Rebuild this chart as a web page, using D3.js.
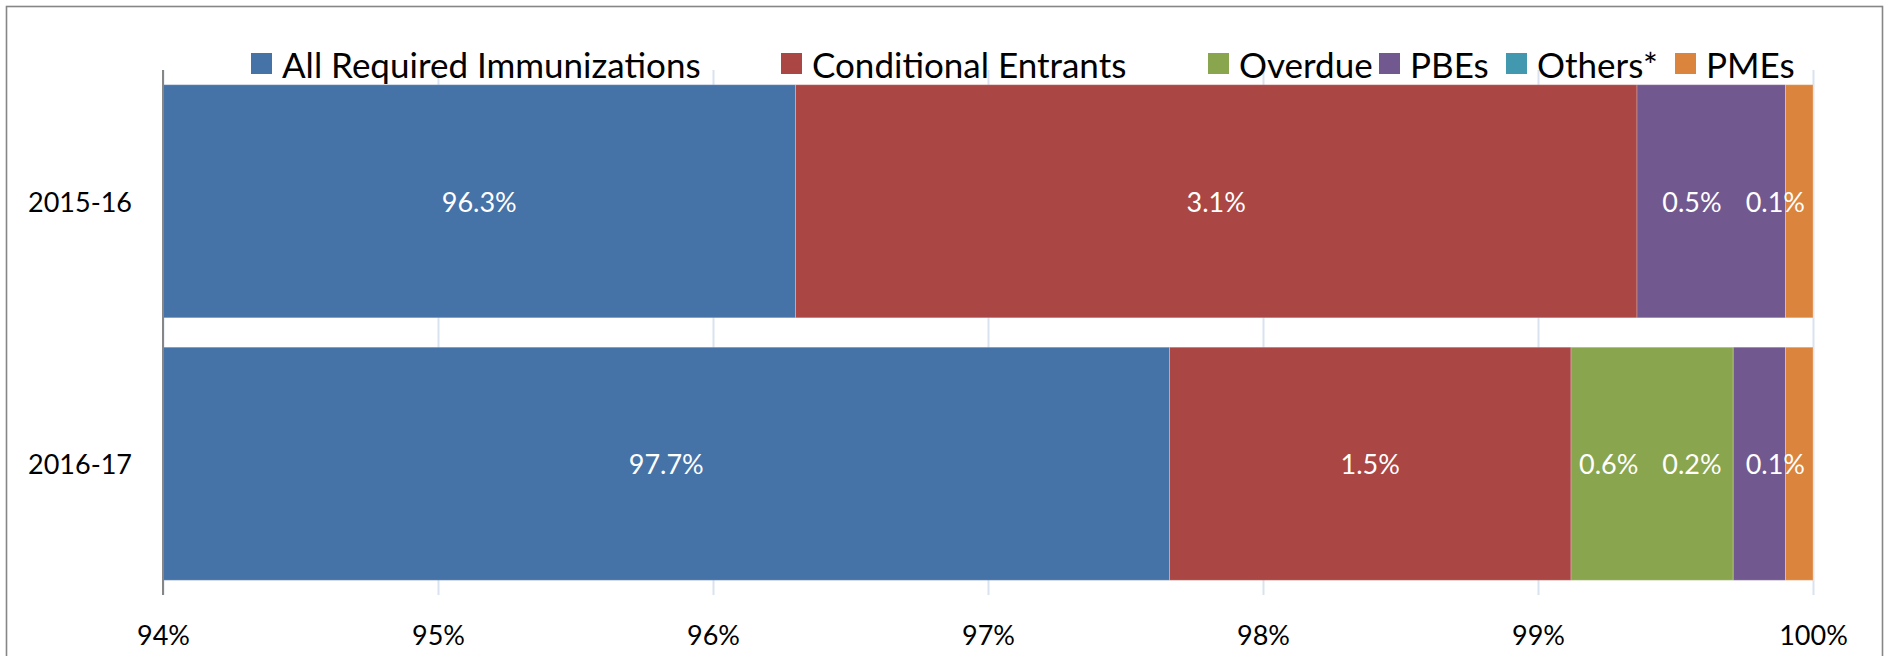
<!DOCTYPE html>
<html>
<head>
<meta charset="utf-8">
<script src="https://cdn.jsdelivr.net/npm/d3@7"></script>
<style>
  html, body { margin: 0; padding: 0; background: #fff; }
  svg { display: block; }
  text { font-family: Lato, "Open Sans", sans-serif; }
</style>
</head>
<body>
<svg id="chart" width="1887" height="656"></svg>
<script>
// ---- data ----
const years = ["2015-16", "2016-17"];
const seriesNames = ["All Required Immunizations", "Conditional Entrants", "Overdue", "PBEs", "Others*", "PMEs"];
const allRequired = [96.30, 97.66];
const conditional = [3.06, 1.46];
const overdue = [0, 0.59];
const pbes = [0.54, 0.19];
const others = [0, 0];
const pmes = [0.10, 0.10];
const tickValues = [94, 95, 96, 97, 98, 99, 100];
const colors = ["#4572A7", "#AA4643", "#89A54E", "#71588F", "#4198AF", "#DB843D"];

const seriesValues = [allRequired, conditional, overdue, pbes, others, pmes];
const rows = years.map((yr, i) => {
  const r = { year: yr };
  seriesNames.forEach((s, k) => r[s] = seriesValues[k][i]);
  return r;
});

// ---- layout ----
const W = 1887, H = 656;
const plot = { left: 163, right: 1813, top: 70, bottom: 595 };
const svg = d3.select("#chart");

// chart border
svg.append("rect").attr("x", 6.5).attr("y", 6.5).attr("width", 1876).attr("height", 700)
  .attr("fill", "none").attr("stroke", "#868686").attr("stroke-width", 1.6);

const x = d3.scaleLinear().domain([94, 100]).range([plot.left, plot.right]).clamp(true);
const y = d3.scaleBand().domain(years).range([plot.top, plot.bottom])
  .paddingInner(0.112).paddingOuter(0.056);

// gridlines
svg.append("g").attr("transform", `translate(0,${plot.bottom})`)
  .call(d3.axisBottom(x).tickValues(tickValues).tickSize(-(plot.bottom - plot.top)).tickFormat(""))
  .call(g => g.select(".domain").remove())
  .call(g => g.selectAll("line").attr("stroke", "#D9E2EF").attr("stroke-width", 2));

// stacked bars
const stack = d3.stack().keys(seriesNames)(rows);
const layers = svg.append("g").selectAll("g").data(stack).join("g")
  .attr("fill", (d, i) => colors[i]);
layers.selectAll("rect").data(d => d).join("rect")
  .attr("x", d => x(d[0]))
  .attr("width", d => Math.max(0, x(d[1]) - x(d[0])))
  .attr("y", d => y(d.data.year))
  .attr("height", y.bandwidth())
  .attr("stroke", "#ffffff").attr("stroke-opacity", 0.25).attr("stroke-width", 1);

// y axis line
svg.append("line").attr("x1", plot.left).attr("x2", plot.left)
  .attr("y1", plot.top).attr("y2", plot.bottom)
  .attr("stroke", "#868686").attr("stroke-width", 2);

// category labels
svg.append("g").selectAll("text").data(years).join("text")
  .attr("x", 132).attr("y", d => y(d) + y.bandwidth() / 2)
  .attr("text-anchor", "end").attr("dominant-baseline", "central")
  .attr("font-size", 27).attr("fill", "#000").text(d => d);

// x axis tick labels
svg.append("g").attr("transform", `translate(0,${plot.bottom})`)
  .call(d3.axisBottom(x).tickValues(tickValues).tickSize(0).tickPadding(0).tickFormat(d => d + "%"))
  .call(g => g.select(".domain").remove())
  .call(g => g.selectAll("text").attr("y", 39).attr("dy", null)
    .attr("dominant-baseline", "central")
    .attr("font-size", 27).attr("font-family", "Lato, sans-serif").attr("fill", "#000"));

// data labels
const fmt = d3.format(".1f");
const labelG = svg.append("g");
years.forEach((yr, i) => {
  const segs = [];
  stack.forEach((layer, k) => {
    const d = layer[i];
    const v = d[1] - d[0];
    if (v <= 0) return;
    const t = labelG.append("text")
      .attr("y", y(yr) + y.bandwidth() / 2)
      .attr("text-anchor", "middle").attr("dominant-baseline", "central")
      .attr("font-size", 27).attr("fill", "#fff")
      .text(fmt(v) + "%");
    segs.push({ t, cx: (x(d[0]) + x(d[1])) / 2, w: t.node().getComputedTextLength() });
  });
  // keep labels inside plot and apart from each other, right to left
  let limit = plot.right - 8;
  for (let j = segs.length - 1; j >= 0; j--) {
    const s = segs[j];
    let right = Math.min(s.cx + s.w / 2, limit);
    s.t.attr("x", right - s.w / 2);
    limit = right - s.w - 24;
  }
});

// legend
const legendX = [251, 781, 1208, 1379, 1506, 1675];
const lg = svg.append("g").selectAll("g").data(seriesNames).join("g")
  .attr("transform", (d, i) => `translate(${legendX[i]},53)`);
lg.append("rect").attr("width", 21).attr("height", 21).attr("fill", (d, i) => colors[i]);
lg.append("text").attr("x", 31).attr("y", 11).attr("dominant-baseline", "central")
  .attr("font-size", 35).attr("fill", "#000").text(d => d);
</script>
</body>
</html>
